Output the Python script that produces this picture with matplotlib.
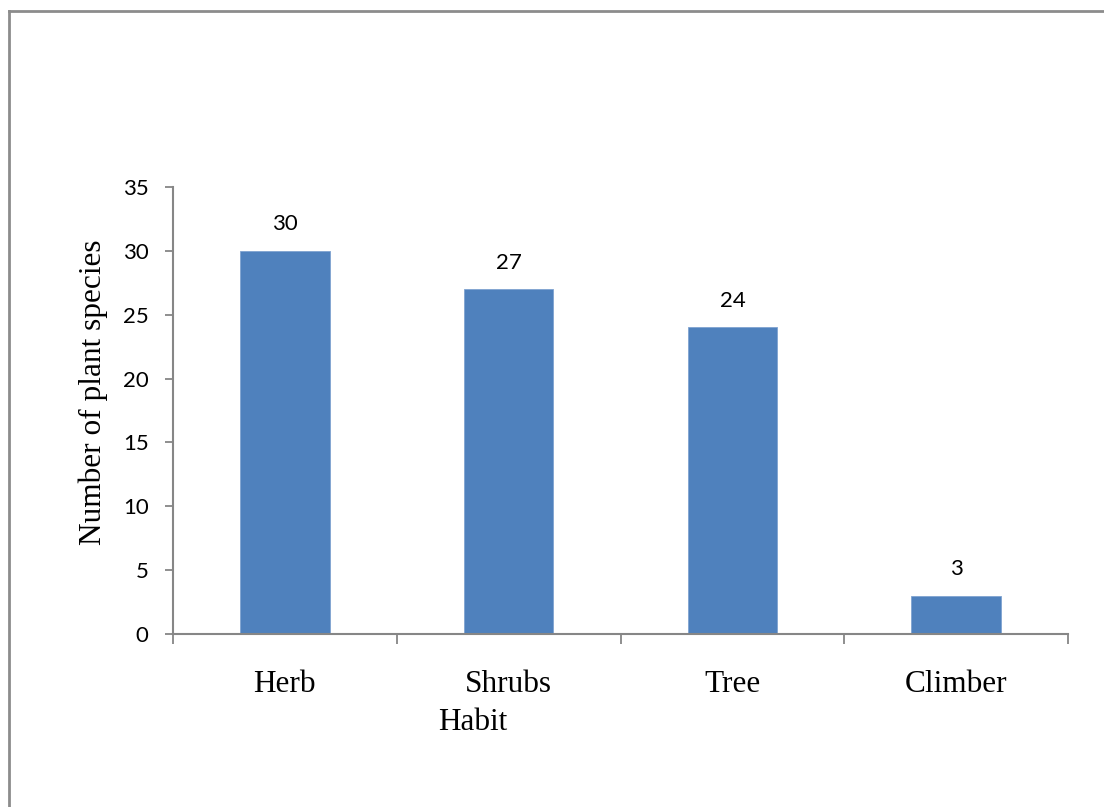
import matplotlib.pyplot as plt
from matplotlib.lines import Line2D

habits = ['Herb', 'Shrubs', 'Tree', 'Climber']
counts = [30, 27, 24, 3]

fig = plt.figure(figsize=(11.04, 8.07), dpi=100)
ax = fig.add_axes([0.1567, 0.2144, 0.8107, 0.5539])

x = range(len(habits))
ax.bar(x, counts, width=0.4, color='#4F81BD', edgecolor='#7fa3d0', linewidth=0.6, zorder=2)

for xi, v in zip(x, counts):
    ax.annotate(str(v), (xi, v), xytext=(0, 19), textcoords='offset points',
                ha='center', va='center', fontsize=16, family='Lato')

ax.set_xlim(-0.5, len(habits) - 0.5)
ax.set_ylim(0, 35)
ax.set_yticks(range(0, 36, 5))
ax.tick_params(axis='y', length=5.5, width=1.3, color='#868686', pad=12, labelsize=16)
for lab in ax.get_yticklabels():
    lab.set_family('Lato')

# tick marks between categories, labels at the centres
ax.set_xticks([i - 0.5 for i in range(len(habits) + 1)])
ax.set_xticklabels([])
ax.tick_params(axis='x', which='major', length=7, width=1.3, color='#868686')
ax.set_xticks(list(x), minor=True)
ax.set_xticklabels(habits, minor=True, family='Liberation Serif', fontsize=22.5)
ax.tick_params(axis='x', which='minor', length=0, pad=26)

for s in ['top', 'right']:
    ax.spines[s].set_visible(False)
for s in ['left', 'bottom']:
    ax.spines[s].set_color('#868686')
    ax.spines[s].set_linewidth(1.5)

ax.set_ylabel('Number of plant species', family='Liberation Serif', fontsize=22.5)
ax.yaxis.set_label_coords(-0.073, 0.541)
fig.text(473 / 1104, 1 - 722 / 807, 'Habit', family='Liberation Serif', fontsize=22.5,
         ha='center', va='center')

# outer frame (only left and top edges fall inside the picture)
fig.add_artist(Line2D([9 / 1104, 9 / 1104], [0, 1 - 10.5 / 807], transform=fig.transFigure,
                      color='#8c8c8c', linewidth=2))
fig.add_artist(Line2D([9 / 1104, 1], [1 - 10.5 / 807, 1 - 10.5 / 807], transform=fig.transFigure,
                      color='#8c8c8c', linewidth=2))

plt.savefig('out.png', dpi=100)
